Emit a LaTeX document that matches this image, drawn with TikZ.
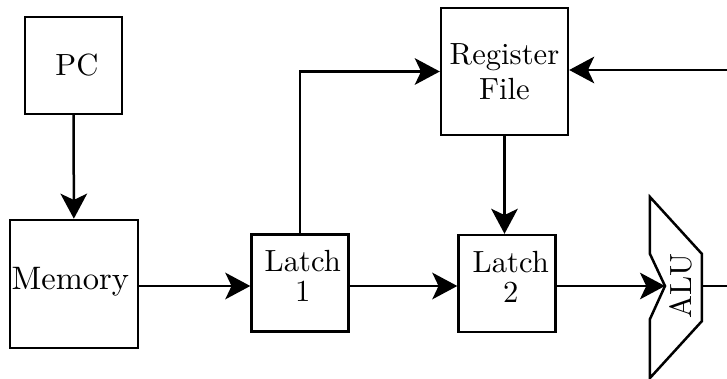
\documentclass[tikz,border=0pt]{standalone}
\usetikzlibrary{arrows.meta}
\begin{document}
\begin{tikzpicture}[x=0.32pt,y=-0.32pt,
  blk/.style={draw,line width=0.8pt,inner sep=0pt},
  txt/.style={align=center,inner sep=0pt,font=\fontsize{9.8}{11.3}\selectfont},
  tight/.style={txt,font=\fontsize{9.8}{9.6}\selectfont},
  conn/.style={line width=0.8pt},
  arr/.style={conn,-{Stealth[length=8pt,width=8.5pt,inset=2pt]}}]
\useasboundingbox (0,0) rectangle (727,379);
\node[blk,minimum width=31pt,minimum height=31pt,
  label={[txt,xshift=1.1pt]center:PC}] (pc) at (73.5,65.5) {};
\node[blk,minimum width=41pt,minimum height=41pt,
  label={[txt,font=\fontsize{10.4}{12}\selectfont,xshift=-1.2pt,yshift=0.6pt]center:Memory}] (mem) at (74,284) {};
\node[blk,minimum width=31pt,minimum height=31pt,
  label={[tight,xshift=0.9pt,yshift=2.2pt]center:{Latch\\1}}] (l1) at (300,283) {};
\node[blk,minimum width=40.6pt,minimum height=40.6pt,
  label={[txt]center:{Register\\File}}] (rf) at (504.5,71.5) {};
\node[blk,minimum width=31pt,minimum height=31pt,
  label={[tight,xshift=1.2pt,yshift=2.2pt]center:{Latch\\2}}] (l2) at (507,283.5) {};
% ALU
\draw[line width=0.8pt] (650,197) -- (702,254) -- (702,321) -- (650,378) -- (650,319)
  -- (665,286) -- (650,254) -- cycle;
\coordinate (aluin) at (665,286);
\coordinate (aluout) at (702,286);
\node[rotate=90,txt] (alu) at (681,286) {ALU};
\coordinate (out) at (727,286);
\coordinate (back) at (727,70);
\draw[arr] (pc) -- (mem);
\draw[arr] (mem.east |- aluin) -- (l1.west |- aluin);
\draw[arr] (l1.north) |- (rf.west);
\draw[arr] (rf) -- (rf.south |- l2.north);
\draw[arr] (l1.east |- aluin) -- (l2.west |- aluin);
\draw[arr] (l2.east |- aluin) -- (aluin);
\draw[conn] (aluout) -- (out);
\draw[arr] (back) -- (back -| rf.east);
\end{tikzpicture}
\end{document}
